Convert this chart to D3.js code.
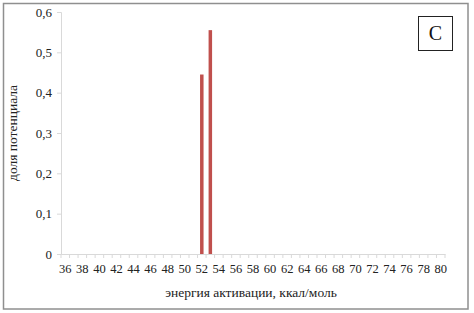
<!DOCTYPE html>
<html><head><meta charset="utf-8">
<script src="https://cdn.jsdelivr.net/npm/d3@7"></script>
<style>body{margin:0;background:#fff}svg{display:block}
text{font-family:"Liberation Serif","Times New Roman","DejaVu Serif",serif !important}</style>
</head><body>
<script>
const categories = d3.range(36, 81);
const barCategories = [52, 53];
const barValues = [0.445, 0.555];
const yTicks = [0, 0.1, 0.2, 0.3, 0.4, 0.5, 0.6];
const xLabel = "энергия активации, ккал/моль";
const yLabel = "доля потенциала";
const panelLetter = "С";

const W = 474, H = 313;
const m = {left: 61, right: 29, top: 12, bottom: 59};
const svg = d3.select("body").append("svg").attr("width", W).attr("height", H);

svg.append("rect").attr("x", 3.5).attr("y", 3.5).attr("width", 464.5).attr("height", 305.5)
  .attr("fill", "#fff").attr("stroke", "#8f8f8f").attr("stroke-width", 1.5);

const x = d3.scaleBand().domain(categories).range([m.left, W - m.right]).paddingInner(0.59).paddingOuter(0.295);
const y = d3.scaleLinear().domain([0, 0.6]).range([H - m.bottom, m.top]);

const fmt = d => d === 0 ? "0" : d3.format(".1f")(d).replace(".", ",");

// y axis
const ya = svg.append("g").attr("transform", `translate(${m.left},0)`)
  .call(d3.axisLeft(y).tickValues(yTicks).tickFormat(fmt).tickSize(4).tickPadding(5));
ya.select(".domain").attr("stroke", "#d9d9d9");
ya.selectAll(".tick line").attr("stroke", "#d9d9d9");
ya.selectAll("text").attr("font-size", 13).attr("fill", "#222");

// x axis
const xa = svg.append("g").attr("transform", `translate(0,${H - m.bottom})`)
  .call(d3.axisBottom(x).tickValues(categories.filter(d => d % 2 === 0)).tickSize(0).tickPadding(10));
xa.select(".domain").attr("stroke", "#d9d9d9");
xa.selectAll("text").attr("font-size", 12.5).attr("fill", "#222");
// minor ticks at category boundaries
const step = x.step();
const bounds = d3.range(categories.length + 1).map(i => m.left + i * step);
svg.append("g").selectAll("line").data(bounds).join("line")
  .attr("x1", d => d).attr("x2", d => d)
  .attr("y1", H - m.bottom).attr("y2", H - m.bottom + 4)
  .attr("stroke", "#d9d9d9");

// bars
svg.append("g").selectAll("rect").data(barCategories.map((c, i) => ({c, v: barValues[i]})))
  .join("rect")
  .attr("x", d => x(d.c)).attr("width", x.bandwidth())
  .attr("y", d => y(d.v)).attr("height", d => y(0) - y(d.v))
  .attr("fill", "#c0504d");

// axis titles
svg.append("text").attr("x", (m.left + W - m.right) / 2 - 2).attr("y", 297)
  .attr("text-anchor", "middle").attr("font-size", 13.5)
  .attr("fill", "#222").text(xLabel);
svg.append("text").attr("transform", `translate(17,${(m.top + H - m.bottom) / 2}) rotate(-90)`)
  .attr("text-anchor", "middle").attr("font-size", 13.5)
  .attr("fill", "#222").text(yLabel);

// panel letter box
svg.append("rect").attr("x", 418.5).attr("y", 16.5).attr("width", 34).attr("height", 34)
  .attr("fill", "#fff").attr("stroke", "#222").attr("stroke-width", 1);
svg.append("text").attr("x", 435.5).attr("y", 40).attr("text-anchor", "middle")
  .attr("font-size", 20).attr("fill", "#111").text(panelLetter);
</script>
</body></html>
